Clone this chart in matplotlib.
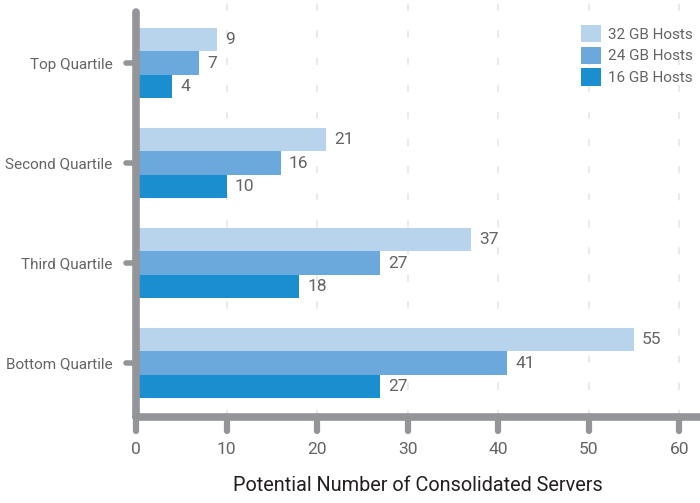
import numpy as np
import matplotlib
matplotlib.use("Agg")
import matplotlib.pyplot as plt
from matplotlib.patches import Patch

plt.rcParams["font.family"] = ["Roboto", "DejaVu Sans"]

quartiles = ["Top Quartile", "Second Quartile", "Third Quartile", "Bottom Quartile"]
hosts_32gb = [9, 21, 37, 55]
hosts_24gb = [7, 16, 27, 41]
hosts_16gb = [4, 10, 18, 27]
x_ticks = [0, 10, 20, 30, 40, 50, 60]

series = [
    ("32 GB Hosts", hosts_32gb, "#b8d3ec"),
    ("24 GB Hosts", hosts_24gb, "#6ba9dc"),
    ("16 GB Hosts", hosts_16gb, "#1a8ecf"),
]

axis_grey = "#939598"
text_grey = "#636466"

fig = plt.figure(figsize=(7, 5.03), dpi=100)
ax = fig.add_axes([136 / 700, 1 - 417 / 503, 564 / 700, 405 / 503])

pos = np.arange(len(quartiles))
h = 0.235
for i, (name, vals, color) in enumerate(series):
    y = pos + (i - 1) * h
    ax.barh(y, vals, height=h, color=color, label=name, zorder=2)
    for yy, v in zip(y, vals):
        ax.text(v + 0.9, yy, str(v), va="center", ha="left",
                fontsize=12.5, color=text_grey)

ax.set_xlim(0, 62.3)
ax.set_ylim(3.54, -0.51)
ax.set_yticks(pos)
ax.set_yticklabels(quartiles)
ax.set_xticks(x_ticks)

# faint dashed guides behind the bars
for x in x_ticks[1:]:
    ax.plot([x, x], [3.54, -0.6], color="#e8e8e8", lw=1.3, ls=(0, (4, 11)),
            zorder=1, clip_on=False)

for side in ["top", "right"]:
    ax.spines[side].set_visible(False)
for side in ["left", "bottom"]:
    ax.spines[side].set_color(axis_grey)
    ax.spines[side].set_linewidth(5.5)
    ax.spines[side].set_capstyle("round")
ax.spines["bottom"].set_bounds(0, 70)

# rounded tick stubs drawn by hand
xt = ax.get_xaxis_transform()
yt = ax.get_yaxis_transform()
for x in x_ticks:
    ax.plot([x, x], [0, -0.035], transform=xt, color=axis_grey, lw=4.5,
            solid_capstyle="round", clip_on=False, zorder=3)
for y in pos:
    ax.plot([0, -0.017], [y, y], transform=yt, color=axis_grey, lw=4,
            solid_capstyle="round", clip_on=False, zorder=3)

ax.tick_params(axis="y", length=0, pad=17, labelsize=11, labelcolor=text_grey)
ax.tick_params(axis="x", length=0, pad=18, labelsize=12.5, labelcolor=text_grey)

ax.set_xlabel("Potential Number of Consolidated Servers", fontsize=14.3,
              color="#231f20", labelpad=14)

handles = [Patch(facecolor=c, label=n) for n, _, c in series]
leg = ax.legend(handles=handles, loc="upper right", bbox_to_anchor=(1.0, 0.985),
                frameon=False, fontsize=11, handlelength=1.35, handleheight=1.35,
                handletextpad=0.45, labelspacing=0.3, borderaxespad=0.05)
for t in leg.get_texts():
    t.set_color(text_grey)

fig.savefig("out.png", dpi=100)
